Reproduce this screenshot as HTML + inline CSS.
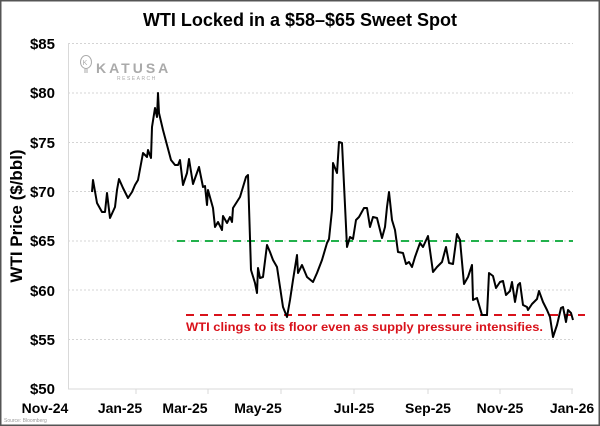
<!DOCTYPE html>
<html><head><meta charset="utf-8"><style>
body{margin:0;background:#fff}
svg{display:block;font-family:"Liberation Sans",sans-serif}
</style></head><body>
<svg width="600" height="426" viewBox="0 0 600 426">
<rect x="0.75" y="0.75" width="598.5" height="424.5" fill="#fff" stroke="#555" stroke-width="1.5"/>
<text x="300" y="26" text-anchor="middle" font-size="18" font-weight="bold">WTI Locked in a $58–$65 Sweet Spot</text>
<g stroke="#d4d4d4" stroke-width="1" stroke-dasharray="2,2">
<line x1="68" x2="573" y1="43.5" y2="43.5"/><line x1="68" x2="573" y1="93" y2="93"/>
<line x1="68" x2="573" y1="142.5" y2="142.5"/><line x1="68" x2="573" y1="191.5" y2="191.5"/>
<line x1="68" x2="573" y1="241" y2="241"/><line x1="68" x2="573" y1="290" y2="290"/>
<line x1="68" x2="573" y1="339.5" y2="339.5"/>
</g>
<line x1="68.5" x2="68.5" y1="43" y2="389" stroke="#d9d9d9"/>
<line x1="68" x2="573" y1="389" y2="389" stroke="#d9d9d9"/>
<g stroke="#d9d9d9"><line x1="136" x2="136" y1="389" y2="394"/><line x1="208" x2="208" y1="389" y2="394"/><line x1="281" x2="281" y1="389" y2="394"/><line x1="354" x2="354" y1="389" y2="394"/><line x1="428" x2="428" y1="389" y2="394"/><line x1="500" x2="500" y1="389" y2="394"/><line x1="572" x2="572" y1="389" y2="394"/></g>
<g font-size="15" font-weight="bold" text-anchor="end">
<text x="55" y="49">$85</text><text x="55" y="98">$80</text><text x="55" y="148">$75</text><text x="55" y="197">$70</text><text x="55" y="246">$65</text><text x="55" y="296">$60</text><text x="55" y="345">$55</text><text x="55" y="394">$50</text>
</g>
<g font-size="14" font-weight="bold" text-anchor="middle">
<text x="45" y="413">Nov-24</text><text x="120" y="413">Jan-25</text><text x="185" y="413">Mar-25</text><text x="258" y="413">May-25</text><text x="354" y="413">Jul-25</text><text x="428" y="413">Sep-25</text><text x="500" y="413">Nov-25</text><text x="572" y="413">Jan-26</text>
</g>
<text transform="translate(22,216) rotate(-90)" text-anchor="middle" font-size="17" font-weight="bold">WTI Price ($/bbl)</text>
<text x="4" y="422" font-size="5" fill="#999">Source: Bloomberg</text>
<g fill="none" stroke="#aaa" stroke-width="1"><ellipse cx="86" cy="62" rx="5.5" ry="6.5"/><line x1="84" y1="70" x2="88" y2="70"/><line x1="84" y1="72" x2="88" y2="72"/></g>
<text x="85" y="65" font-size="7" fill="#aaa" text-anchor="middle">K</text>
<text x="96" y="73" font-size="14" fill="#aaa" font-weight="bold" letter-spacing="3">KATUSA</text>
<text x="117" y="80" font-size="5" fill="#aaa" letter-spacing="1.5">RESEARCH</text>
<line x1="177" x2="573" y1="241" y2="241" stroke="#22b14c" stroke-width="2" stroke-dasharray="8,6"/>
<line x1="186" x2="585" y1="315" y2="315" stroke="#d9121b" stroke-width="2" stroke-dasharray="8,6"/>
<text x="186" y="331" font-size="12" font-weight="bold" fill="#d9121b" textLength="357" lengthAdjust="spacingAndGlyphs">WTI clings to its floor even as supply pressure intensifies.</text>
<polyline fill="none" stroke="#000" stroke-width="2" stroke-linejoin="round" points="92,192 93,180 97,203 102,212 105,212 107,193 110,218 115,207 117,190 119,179 123,188 128,198 132,192 135,185 138,180 143,153 147,157 148,150 151,158 152,127 155,108 157,117 158,93 159,113 163,130 167,145 171,160 175,165 178,165 180,160 183,185 187,173 189,159 193,184 199,167 203,187 205,186 207,205 208,190 213,208 215,227 218,222 222,230 223,216 227,223 230,217 232,222 233,208 240,197 246,177 248,175 251,270 255,283 257,293 258,268 260,278 263,277 267,245 270,252 273,260 277,267 280,287 283,307 287,317 290,300 293,280 297,255 298,273 302,265 307,277 313,282 317,273 322,260 327,243 329,239 332,210 333,163 337,173 339,142 342,143 347,247 350,237 353,239 356,220 359,217 364,208 367,208 370,227 373,217 377,218 382,238 385,227 387,207 389,192 392,220 395,230 398,252 403,253 406,264 409,262 412,267 415,257 420,243 423,247 428,236 433,272 437,267 442,262 446,247 449,263 453,264 457,234 460,240 464,284 468,277 472,265 473,300 477,298 482,315 487,315 489,273 493,276 496,288 500,282 503,281 506,295 510,291 512,282 515,302 518,285 520,283 523,305 527,307 528,310 532,304 537,299 539,291 543,302 547,310 550,317 553,337 557,325 561,308 563,307 566,322 568,310 571,313 573,320"/>
</svg>
</body></html>
